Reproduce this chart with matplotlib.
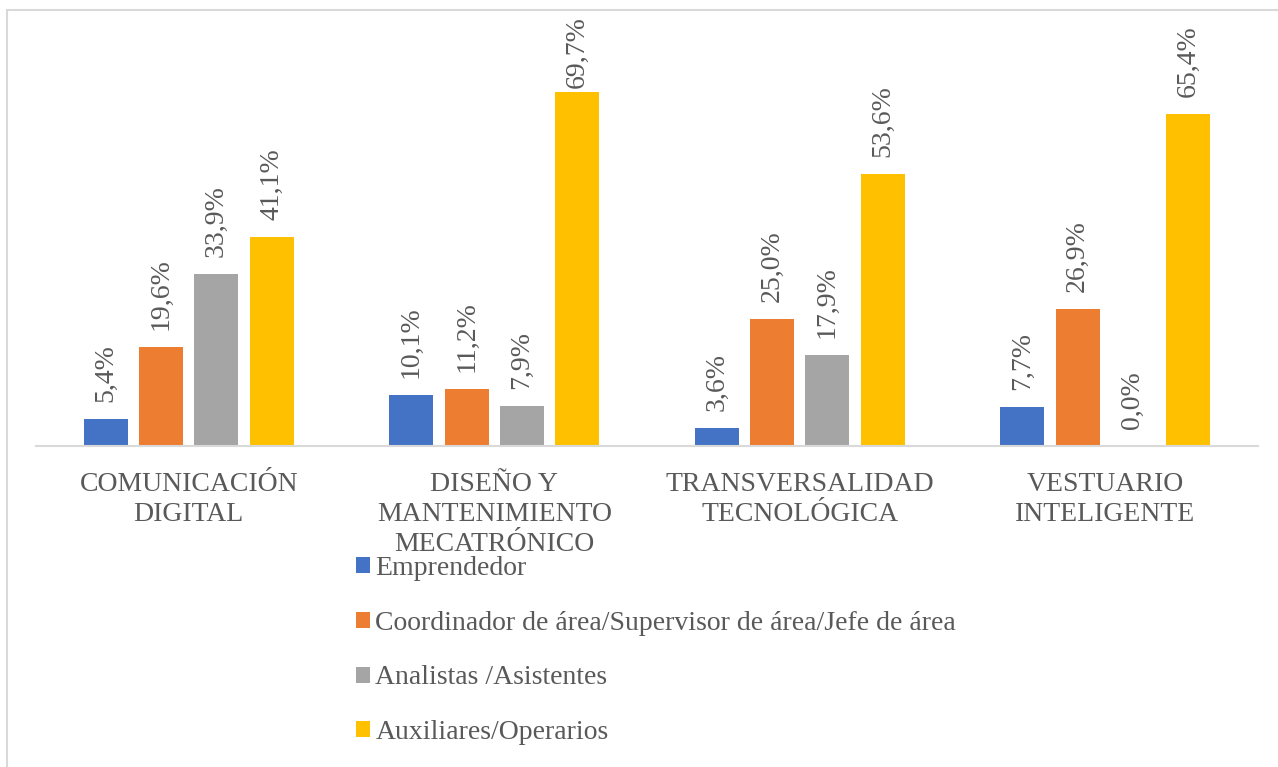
import matplotlib
matplotlib.use('Agg')
import matplotlib.pyplot as plt
from matplotlib.patches import Rectangle, Patch
import numpy as np

categories = ['COMUNICACIÓN\nDIGITAL',
              'DISEÑO Y\nMANTENIMIENTO\nMECATRÓNICO',
              'TRANSVERSALIDAD\nTECNOLÓGICA',
              'VESTUARIO\nINTELIGENTE']
series_names = ['Emprendedor',
                'Coordinador de área/Supervisor de área/Jefe de área',
                'Analistas /Asistentes',
                'Auxiliares/Operarios']
emprendedor = [5.4, 10.1, 3.6, 7.7]
coordinador = [19.6, 11.2, 25.0, 26.9]
analistas = [33.9, 7.9, 17.9, 0.0]
auxiliares = [41.1, 69.7, 53.6, 65.4]

colors = ['#4472C4', '#ED7D31', '#A5A5A5', '#FFC000']
txt = '#595959'

plt.rcParams['font.family'] = ['Liberation Serif', 'DejaVu Serif']

W, H = 1278, 767
fig = plt.figure(figsize=(W / 100, H / 100), dpi=100)
ax = fig.add_axes([36 / W, (H - 446) / H, (1258 - 36) / W, 406 / H])

x = np.arange(len(categories))
bw = 0.144
step = 0.181
px_per_unit = 406 / 80
for i, (name, vals) in enumerate(zip(series_names, [emprendedor, coordinador, analistas, auxiliares])):
    pos = x + (i - 1.5) * step
    ax.bar(pos, vals, width=bw, color=colors[i], label=name, zorder=2)
    for px, v in zip(pos, vals):
        # labels sit ~17px above the bar, but are kept inside the chart area (top ~18px)
        room = (446 - v * px_per_unit) - 70 - 18
        gap = max(3, min(17, room))
        ax.annotate(f'{v:.1f}%'.replace('.', ','), (px, v), xytext=(0, gap * 0.72),
                    textcoords='offset points', rotation=90, ha='center',
                    va='bottom', fontsize=20, color=txt, annotation_clip=False)

ax.set_xlim(-0.5, 3.5)
ax.set_ylim(0, 80)
ax.set_yticks([])
ax.set_xticks(x)
ax.set_xticklabels(categories, fontsize=20, color=txt, linespacing=1.25)
ax.tick_params(axis='x', length=0, pad=19)
for s in ['top', 'right', 'left']:
    ax.spines[s].set_visible(False)
ax.spines['bottom'].set_color('#D9D9D9')
ax.spines['bottom'].set_linewidth(1.5)

handles = [Patch(facecolor=c, label=n) for c, n in zip(colors, series_names)]
leg = fig.legend(handles=handles, loc='upper left', bbox_to_anchor=(356 / W, (H - 556) / H),
                 frameon=False, fontsize=20, handlelength=0.5, handleheight=0.5,
                 handletextpad=0.2, labelspacing=1.07, borderpad=0, borderaxespad=0)
for t in leg.get_texts():
    t.set_color(txt)

fig.patches.append(Rectangle((7 / W, -0.1), 1.2, (H - 10) / H + 0.1, transform=fig.transFigure,
                             fill=False, edgecolor='#D9D9D9', linewidth=1.5))

fig.savefig('out.png', dpi=100)
